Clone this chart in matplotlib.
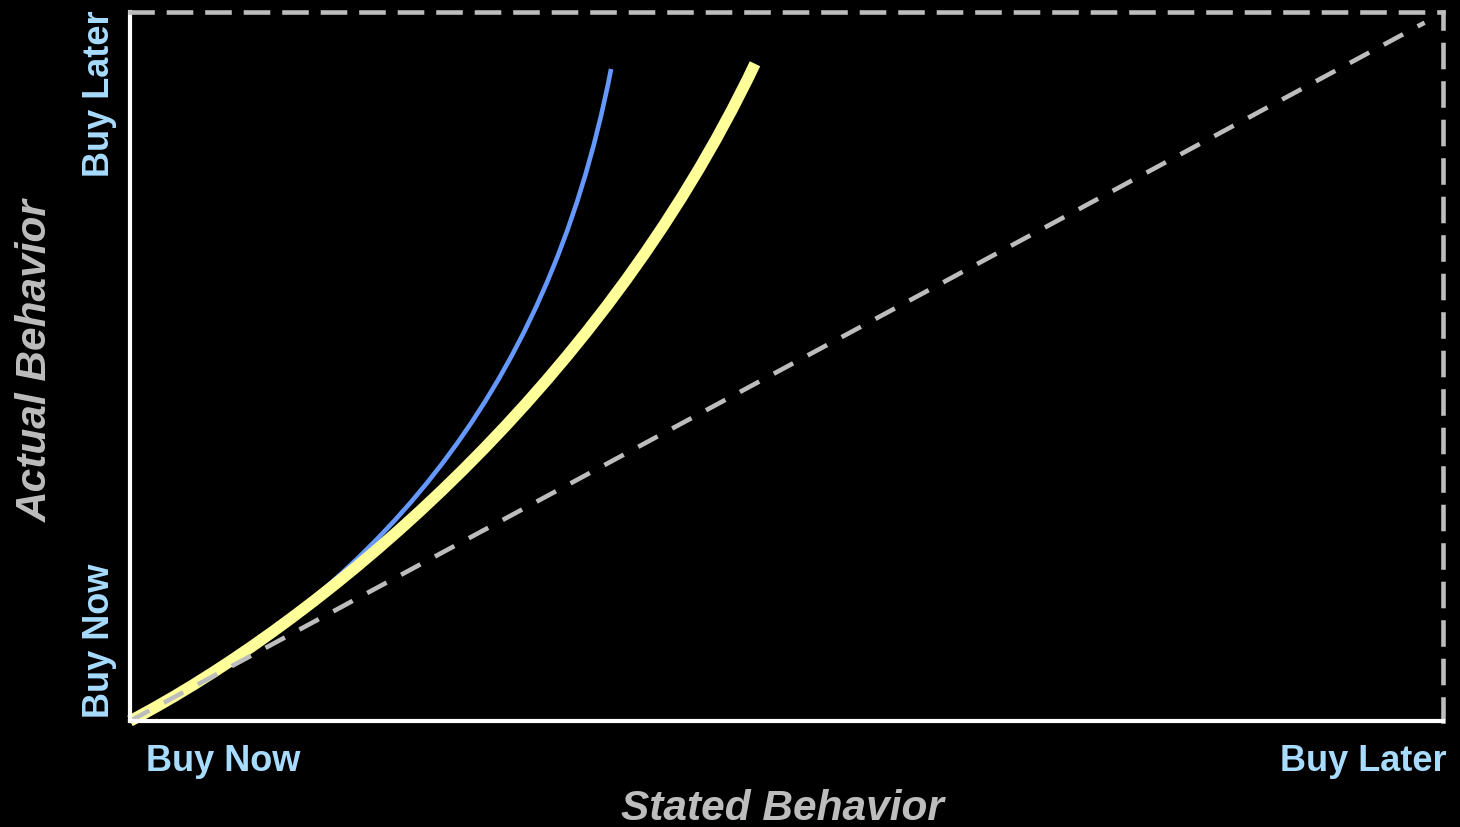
import matplotlib
matplotlib.use("Agg")
import matplotlib.pyplot as plt
from matplotlib.path import Path
from matplotlib.patches import PathPatch

plt.rcParams['font.family'] = ['Liberation Sans', 'DejaVu Sans']

# bezier control points of the two curves
# (0 = buy now, 1 = buy later)
blue_x = [0.0, 0.18, 0.3164, 0.3664]
blue_y = [0.0, 0.18, 0.4446, 0.9196]
yellow_x = [0.0, 0.14, 0.356, 0.476]
yellow_y = [0.0, 0.136, 0.46, 0.927]
diag_x = [0.0, 0.986]
diag_y = [0.0, 0.985]

tick_labels = ["Buy Now", "Buy Later"]
xlabel = "Stated Behavior"
ylabel = "Actual Behavior"

tick_col = "#A8DCFF"
gray = "#BDBDBD"

fig = plt.figure(figsize=(14.6, 8.28), dpi=100, facecolor="black")
ax = fig.add_axes([130/1460, 1-722/828, 1313/1460, 709/828])
ax.set_facecolor("black")
ax.set_xlim(0, 1)
ax.set_ylim(0, 1)

ax.plot(diag_x, diag_y, color=gray, lw=3.3, dashes=(4.8, 3.6), solid_capstyle="butt")

codes = [Path.MOVETO, Path.CURVE4, Path.CURVE4, Path.CURVE4]
blue = PathPatch(Path(list(zip(blue_x, blue_y)), codes), fill=False,
                 edgecolor="#6699FF", lw=3.3, capstyle="butt")
yellow = PathPatch(Path(list(zip(yellow_x, yellow_y)), codes), fill=False,
                   edgecolor="#FFFF99", lw=8.3, capstyle="butt", clip_on=False)
ax.add_patch(blue)
ax.add_patch(yellow)

for s in ["left", "bottom"]:
    ax.spines[s].set_color("white")
    ax.spines[s].set_linewidth(3)
for s in ["top", "right"]:
    ax.spines[s].set_color(gray)
    ax.spines[s].set_linewidth(3.3)
    ax.spines[s].set_linestyle((0, (4.8, 3.6)))

ax.set_xticks([])
ax.set_yticks([])

# tick labels at the ends of each axis
ax.text(0.012, -0.056, tick_labels[0], transform=ax.transAxes, ha="left", va="center",
        fontsize=26, fontweight="bold", color=tick_col)
ax.text(1.003, -0.056, tick_labels[1], transform=ax.transAxes, ha="right", va="center",
        fontsize=26, fontweight="bold", color=tick_col)
ax.text(-0.023, 0.005, tick_labels[0], transform=ax.transAxes, ha="center", va="bottom",
        rotation=90, fontsize=26, fontweight="bold", color=tick_col)
ax.text(-0.023, 1.003, tick_labels[1], transform=ax.transAxes, ha="center", va="top",
        rotation=90, fontsize=26, fontweight="bold", color=tick_col)

ax.text(0.497, -0.123, xlabel, transform=ax.transAxes, ha="center", va="center",
        fontsize=30.5, fontweight="bold", fontstyle="italic", color=gray)
ax.text(-0.072, 0.51, ylabel, transform=ax.transAxes, ha="center", va="center",
        rotation=90, fontsize=30.5, fontweight="bold", fontstyle="italic", color=gray)

fig.savefig("out.png", dpi=100, facecolor="black")
